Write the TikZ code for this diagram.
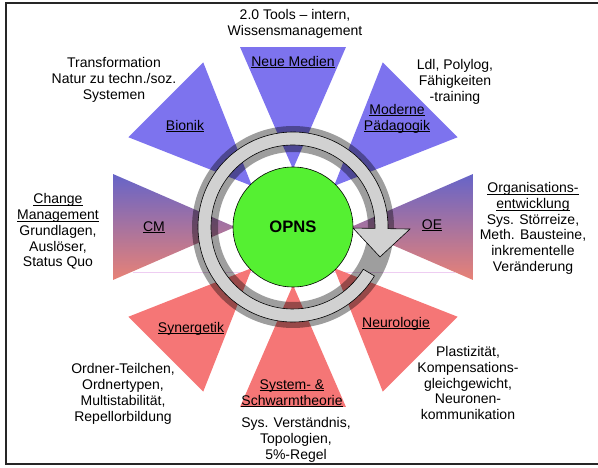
\documentclass[tikz,border=0pt]{standalone}
\usepackage{fontspec}
\setmainfont{Liberation Sans}
\definecolor{bluetri}{RGB}{125,115,238}
\definecolor{redtri}{RGB}{245,118,118}
\definecolor{mixtop}{RGB}{102,100,200}
\definecolor{mixbot}{RGB}{232,130,118}
\definecolor{opnsgreen}{RGB}{85,240,50}
\definecolor{faintline}{RGB}{238,205,242}
\newcommand{\uln}[1]{\underline{\smash{#1}}\strut}

\begin{document}
\begin{tikzpicture}[x=1pt, y=1pt,
  label/.style={align=center, font=\fontsize{14}{15.8}\selectfont, inner sep=0pt},
  band/.style={fill=black!18, draw=black, line width=0.6pt}]
  \useasboundingbox (0,0) rectangle (598,-468);
  \draw[line width=2.4pt, black!85] (620,-3) -- (6,-3) -- (6,-464) -- (620,-464);
  \draw[faintline, line width=1pt] (133,-273) -- (455,-273);
  \begin{scope}[shift={(293,-227)}]
    \foreach \a/\c in {90/bluetri, 135/bluetri, 45/bluetri, 225/redtri, 270/redtri, 315/redtri}
      \fill[\c] (\a:58pt) -- ({\a+16.4}:187.6pt) -- ({\a-16.4}:187.6pt) -- cycle;
    \foreach \a in {0, 180}
      \shade[top color=mixtop, bottom color=mixbot] (\a:58pt) -- ({\a+16.4}:187.6pt) -- ({\a-16.4}:187.6pt) -- cycle;
    \fill[black, fill opacity=0.38, even odd rule] (0,0) circle[radius=101pt] (0,0) circle[radius=75pt];
    \filldraw[band] (-31:95pt) arc[start angle=-31, end angle=-361, radius=95pt] -- (-1:117pt) -- (-19:92pt)
      -- (-1:60pt) -- (-1:82pt) arc[start angle=-361, end angle=-31, radius=82pt] -- cycle;
    \node[circle, draw, fill=opnsgreen, minimum size=120pt, line width=0.6pt,
      font=\bfseries\fontsize{16.6}{19}\selectfont] (opns) at (0,0) {OPNS};
  \end{scope}
  \node[label] (tools) at (295,-24) {2.0 Tools – intern,\\Wissensmanagement};
  \node[label] (medien) at (293,-63) {\uln{Neue Medien}};
  \node[label] (trafo) at (114,-80) {Transformation\\Natur zu techn./soz.\\Systemen};
  \node[label] (bionik) at (185,-127) {\uln{Bionik}};
  \node[label] (ldl) at (455,-82) {Ldl, Polylog,\\Fähigkeiten\\-training};
  \node[label] (paed) at (397,-119) {\uln{Moderne}\\\uln{Pädagogik}};
  \node[label] (change) at (58,-231) {\uln{Change}\\\uln{Management}\\Grundlagen,\\Auslöser,\\Status Quo};
  \node[label] (cm) at (154,-228) {\uln{CM}};
  \node[label] (oe) at (432,-226) {\uln{OE}};
  \node[label] (orga) at (533,-228) {\uln{Organisations-}\\\uln{entwicklung}\\Sys. Störreize,\\Meth. Bausteine,\\inkrementelle\\Veränderung};
  \node[label] (syn) at (191,-329) {\uln{Synergetik}};
  \node[label] (ordner) at (123,-394) {Ordner-Teilchen,\\Ordnertypen,\\Multistabilität,\\Repellorbildung};
  \node[label] (schwarm) at (292,-394) {\uln{System- \&}\\\uln{Schwarmtheorie}};
  \node[label] (sysv) at (296,-440) {Sys. Verständnis,\\Topologien,\\5\%-Regel};
  \node[label] (neuro) at (396,-324) {\uln{Neurologie}};
  \node[label] (plast) at (468,-383) {Plastizität,\\Kompensations-\\gleichgewicht,\\Neuronen-\\kommunikation};
\end{tikzpicture}
\end{document}
